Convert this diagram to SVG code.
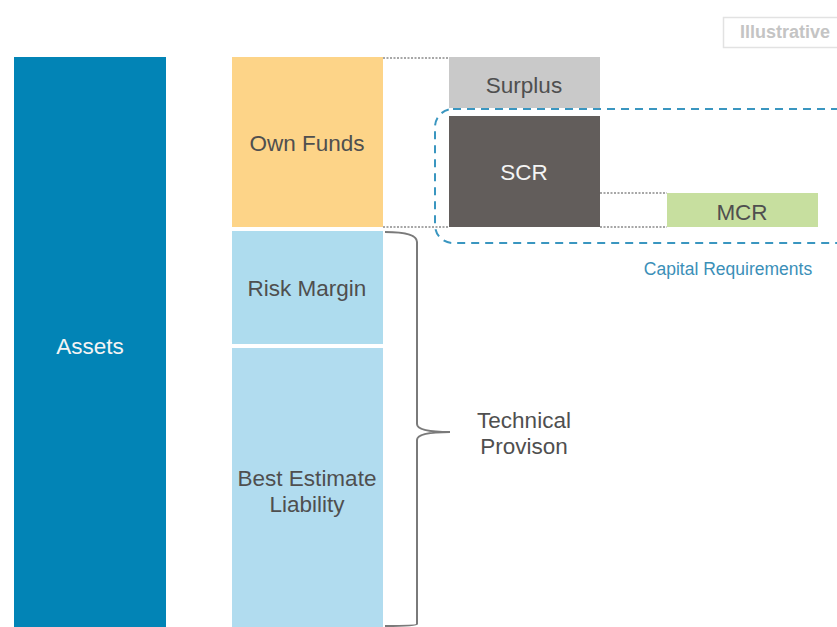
<svg xmlns="http://www.w3.org/2000/svg" width="837" height="627" viewBox="0 0 837 627">
  <style>
    .lbl { font-family: "Liberation Sans", Arial, sans-serif; font-size: 22.5px; text-anchor: middle; }
    .dark { fill: #4f4f4f; }
    .light { fill: #f4f4f4; }
    .dot { stroke: #8a8a8a; stroke-width: 1.3; stroke-dasharray: 2 1.5; fill: none; }
  </style>
  <rect width="837" height="627" fill="#ffffff"/>

  <!-- legend tag -->
  <g id="tag">
    <rect x="723.5" y="17.5" width="120" height="30" fill="#ffffff" stroke="#e2e2e2" stroke-width="1.5"/>
    <text x="785" y="38" font-family="Liberation Sans, Arial, sans-serif" font-size="18" font-weight="bold" fill="#c4c4c4" text-anchor="middle">Illustrative</text>
  </g>

  <g id="assets">
    <rect x="14" y="57" width="152" height="570" fill="#0284b6"/>
    <text class="lbl light" x="90" y="354">Assets</text>
  </g>

  <g id="own-funds">
    <rect x="232" y="57" width="151" height="170" fill="#fdd488"/>
    <text class="lbl dark" x="307" y="151">Own Funds</text>
  </g>

  <g id="risk-margin">
    <rect x="232" y="231" width="151" height="113" fill="#aedcee"/>
    <text class="lbl dark" x="307" y="296">Risk Margin</text>
  </g>

  <g id="best-estimate">
    <rect x="232" y="348" width="151" height="279" fill="#b1dcef"/>
    <text class="lbl dark" x="307" y="486">Best Estimate</text>
    <text class="lbl dark" x="307" y="512">Liability</text>
  </g>

  <g id="surplus">
    <rect x="449" y="57" width="151" height="51" fill="#c9c9c9"/>
    <text class="lbl dark" x="524" y="93">Surplus</text>
  </g>

  <g id="scr">
    <rect x="449" y="116" width="151" height="111" fill="#625d5b"/>
    <text class="lbl light" x="524" y="180">SCR</text>
  </g>

  <g id="mcr">
    <rect x="667" y="193" width="151" height="34" fill="#c7df9f"/>
    <text class="lbl dark" x="742" y="220">MCR</text>
  </g>

  <g id="capital-requirements">
    <rect x="435" y="109" width="420" height="134" rx="18" ry="18" fill="none" stroke="#3a96c0" stroke-width="2" stroke-dasharray="8 6"/>
    <text x="728" y="275" font-family="Liberation Sans, Arial, sans-serif" font-size="17.5" fill="#3b8fb8" text-anchor="middle">Capital Requirements</text>
  </g>

  <g id="technical-provision">
    <path d="M385 232 Q417 232 417 242 L417 424 Q417 432 450 432 M417 440 Q417 432 450 432 M417 440 L417 624 Q417 626 385 626" fill="none" stroke="#7a7a7a" stroke-width="2"/>
    <text class="lbl dark" x="524" y="428">Technical</text>
    <text class="lbl dark" x="524" y="454">Provison</text>
  </g>

  <g id="connectors">
    <line class="dot" x1="383" y1="58" x2="449" y2="58"/>
    <line class="dot" x1="383" y1="227" x2="449" y2="227"/>
    <line class="dot" x1="600" y1="193" x2="667" y2="193"/>
    <line class="dot" x1="600" y1="227" x2="667" y2="227"/>
  </g>
</svg>
